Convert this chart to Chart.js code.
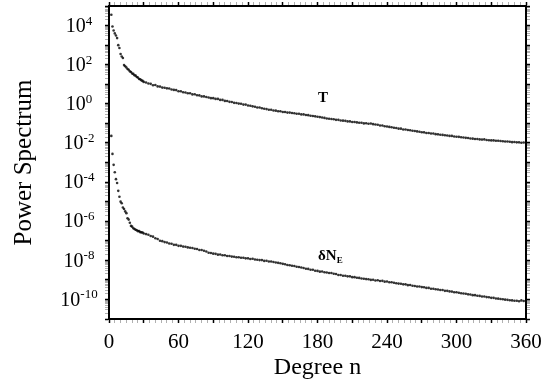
<!DOCTYPE html>
<html>
<head>
<meta charset="utf-8">
<script src="https://cdn.jsdelivr.net/npm/chart.js@4"></script>
<style>
  body { margin: 0; background: #fff; }
  canvas { display: block; }
</style>
</head>
<body>
<canvas id="spectrum" width="549" height="385"></canvas>
<script>
// Degrees n: every degree up to 30, then every second degree up to 360
const degrees = [];
for (let n = 2; n <= 30; n++) degrees.push(n);
for (let n = 32; n <= 360; n += 2) degrees.push(n);

// log10 of the power spectrum of T
const tLog = [
    4.55, 3.95, 3.75, 3.60, 3.49, 3.36, 3.00, 2.85, 2.55, 2.42,
    2.34, 1.98, 1.92, 1.86, 1.78, 1.74, 1.66, 1.63, 1.55, 1.53,
    1.46, 1.44, 1.37, 1.34, 1.27, 1.25, 1.20, 1.17, 1.12,
    1.09, 1.04, 1.02, 0.95, 0.96, 0.89, 0.88, 0.83, 0.82, 0.79,
    0.78, 0.73, 0.71, 0.70, 0.64, 0.64, 0.59, 0.58, 0.54, 0.54,
    0.48, 0.49, 0.44, 0.43, 0.38, 0.38, 0.35, 0.32, 0.29, 0.29,
    0.25, 0.25, 0.20, 0.20, 0.15, 0.14, 0.10, 0.09, 0.05, 0.04,
    0.01, 0.00, -0.04, -0.04, -0.09, -0.10, -0.13, -0.15, -0.19, -0.19,
    -0.23, -0.25, -0.27, -0.30, -0.30, -0.34, -0.35, -0.38, -0.38, -0.42,
    -0.42, -0.45, -0.45, -0.47, -0.48, -0.51, -0.51, -0.54, -0.54, -0.57,
    -0.58, -0.61, -0.62, -0.64, -0.66, -0.68, -0.70, -0.72, -0.75, -0.76,
    -0.78, -0.79, -0.82, -0.82, -0.85, -0.86, -0.87, -0.90, -0.90, -0.93,
    -0.93, -0.95, -0.97, -0.97, -1.00, -0.99, -1.02, -1.01, -1.04, -1.06,
    -1.07, -1.11, -1.11, -1.15, -1.16, -1.18, -1.20, -1.22, -1.24, -1.27,
    -1.27, -1.31, -1.31, -1.34, -1.35, -1.38, -1.39, -1.41, -1.43, -1.45,
    -1.46, -1.49, -1.49, -1.52, -1.52, -1.55, -1.56, -1.58, -1.59, -1.61,
    -1.62, -1.64, -1.64, -1.67, -1.68, -1.69, -1.71, -1.72, -1.74, -1.75,
    -1.77, -1.78, -1.80, -1.80, -1.82, -1.83, -1.82, -1.85, -1.86, -1.87,
    -1.87, -1.89, -1.89, -1.90, -1.91, -1.93, -1.93, -1.94, -1.96, -1.95,
    -1.97, -1.97, -1.99, -1.98, -2.00
];

// log10 of the power spectrum of delta N_E
const neLog = [
    -1.64, -2.56, -3.12, -3.50, -3.85, -4.05, -4.45, -4.75, -5.00, -5.08,
    -5.30, -5.38, -5.50, -5.59, -5.85, -5.92, -6.08, -6.24, -6.28, -6.36,
    -6.40, -6.44, -6.46, -6.51, -6.50, -6.56, -6.57, -6.58, -6.63,
    -6.66, -6.69, -6.76, -6.79, -6.87, -6.91, -7.00, -7.02, -7.07, -7.09,
    -7.14, -7.15, -7.21, -7.21, -7.26, -7.26, -7.30, -7.31, -7.34, -7.36,
    -7.37, -7.41, -7.42, -7.47, -7.47, -7.51, -7.55, -7.61, -7.63, -7.66,
    -7.67, -7.71, -7.70, -7.74, -7.74, -7.78, -7.78, -7.81, -7.82, -7.84,
    -7.84, -7.87, -7.87, -7.90, -7.90, -7.93, -7.92, -7.96, -7.97, -7.99,
    -7.99, -8.03, -8.02, -8.06, -8.06, -8.09, -8.11, -8.13, -8.15, -8.18,
    -8.20, -8.24, -8.25, -8.28, -8.29, -8.33, -8.34, -8.37, -8.39, -8.43,
    -8.44, -8.48, -8.48, -8.53, -8.54, -8.58, -8.57, -8.61, -8.62, -8.65,
    -8.65, -8.69, -8.70, -8.75, -8.75, -8.79, -8.79, -8.82, -8.82, -8.86,
    -8.86, -8.89, -8.90, -8.93, -8.94, -8.96, -8.97, -9.00, -8.99, -9.03,
    -9.02, -9.06, -9.05, -9.09, -9.08, -9.12, -9.12, -9.15, -9.17, -9.19,
    -9.20, -9.23, -9.23, -9.27, -9.26, -9.30, -9.31, -9.34, -9.34, -9.37,
    -9.38, -9.41, -9.41, -9.45, -9.45, -9.48, -9.49, -9.52, -9.52, -9.56,
    -9.56, -9.59, -9.60, -9.63, -9.63, -9.66, -9.68, -9.70, -9.71, -9.74,
    -9.75, -9.78, -9.78, -9.81, -9.82, -9.85, -9.85, -9.88, -9.89, -9.92,
    -9.92, -9.95, -9.96, -9.98, -9.99, -10.01, -10.02, -10.04, -10.05, -10.07,
    -10.07, -10.09, -10.05, -10.08, -10.07
];

// Tick settings
const xTickLabels = [0, 60, 120, 180, 240, 300, 360];
const yLabelExponents = [4, 2, 0, -2, -4, -6, -8, -10];
const yMinExp = -11;
const yMaxExp = 5;

const SERIF = "'Liberation Serif', 'Times New Roman', serif";
Chart.defaults.font.family = SERIF;
Chart.defaults.color = '#000';

// Build scatter points from the arrays
function toPoints(logs) {
    return degrees.map((n, i) => ({ x: n, y: Math.pow(10, logs[i]) }));
}

// Tick marks for x: every 5 degrees, majors every 30
function xTicks(scale) {
    const t = [];
    for (let v = 0; v <= 360; v += 5) t.push({ value: v, major: v % 30 === 0 });
    scale.ticks = t;
}

// Tick marks for y: each decade plus 2..9 minors
function yTicks(scale) {
    const t = [];
    for (let e = yMinExp; e <= yMaxExp; e++) {
        t.push({ value: Math.pow(10, e), major: true });
        if (e < yMaxExp) {
            for (let m = 2; m <= 9; m++) t.push({ value: m * Math.pow(10, e), major: false });
        }
    }
    scale.ticks = t;
}

const tickColor = (c) => (c.tick && c.tick.major ? '#000' : '#b0b0b0');
const tickWidth = (c) => (c.tick && c.tick.major ? 1.5 : 1);

const frameGrid = {
    drawOnChartArea: false,
    drawTicks: true,
    tickLength: 4,
    tickColor: tickColor,
    tickWidth: tickWidth
};
const frameBorder = { display: true, color: '#000', width: 2 };

// Plugin: y tick labels as 10 with superscript exponent, and curve labels
const labelPlugin = {
    id: 'labels',
    afterDraw(chart) {
        const ctx = chart.ctx;
        const ys = chart.scales.y;
        const xs = chart.scales.x;
        ctx.save();
        ctx.fillStyle = '#000';

        yLabelExponents.forEach((e) => {
            const py = ys.getPixelForValue(Math.pow(10, e));
            const expText = String(e);
            ctx.font = `20px ${SERIF}`;
            const wBase = ctx.measureText('10').width;
            ctx.font = `13px ${SERIF}`;
            const wExp = ctx.measureText(expText).width;
            const left = 79 - (wBase + wExp) / 2;

            ctx.textAlign = 'left';
            ctx.textBaseline = 'middle';
            ctx.font = `20px ${SERIF}`;
            ctx.fillText('10', left, py + 1);
            ctx.textBaseline = 'alphabetic';
            ctx.font = `13px ${SERIF}`;
            ctx.fillText(expText, left + wBase, py - 1);
        });

        // Curve labels
        ctx.textBaseline = 'middle';
        ctx.textAlign = 'center';
        ctx.font = `bold 15px ${SERIF}`;
        ctx.fillText('T', xs.getPixelForValue(184.7), ys.getPixelForValue(Math.pow(10, 0.31)));

        const nx = xs.getPixelForValue(180.5);
        const ny = ys.getPixelForValue(Math.pow(10, -7.77));
        ctx.textAlign = 'left';
        ctx.font = `bold 15px ${SERIF}`;
        ctx.fillText('δN', nx, ny);
        const wDN = ctx.measureText('δN').width;
        ctx.font = `bold 9px ${SERIF}`;
        ctx.fillText('E', nx + wDN, ny + 5);

        ctx.restore();
    }
};

const ctx = document.getElementById('spectrum');

new Chart(ctx, {
    type: 'scatter',
    data: {
        datasets: [
            {
                label: 'T',
                data: toPoints(tLog),
                pointRadius: 1.3,
                pointBorderWidth: 0,
                pointBackgroundColor: 'rgba(0,0,0,0.8)'
            },
            {
                label: 'δN_E',
                data: toPoints(neLog),
                pointRadius: 1.3,
                pointBorderWidth: 0,
                pointBackgroundColor: 'rgba(0,0,0,0.8)'
            }
        ]
    },
    options: {
        responsive: false,
        animation: false,
        events: [],
        layout: { padding: 0 },
        plugins: {
            legend: { display: false },
            tooltip: { enabled: false }
        },
        scales: {
            x: {
                type: 'linear',
                position: 'bottom',
                min: 0,
                max: 360,
                afterBuildTicks: xTicks,
                afterFit: (s) => { s.height = 66; },
                grid: frameGrid,
                border: frameBorder,
                ticks: {
                    autoSkip: false,
                    maxRotation: 0,
                    padding: 7,
                    font: { size: 21 },
                    callback: (v) => (xTickLabels.includes(v) ? String(v) : '')
                },
                title: {
                    display: true,
                    text: 'Degree n',
                    font: { size: 24 },
                    padding: { top: 0, bottom: 3 }
                }
            },
            xTop: {
                type: 'linear',
                position: 'top',
                min: 0,
                max: 360,
                afterBuildTicks: xTicks,
                afterFit: (s) => { s.height = 6; },
                grid: frameGrid,
                border: frameBorder,
                ticks: { display: false }
            },
            y: {
                type: 'logarithmic',
                position: 'left',
                min: Math.pow(10, yMinExp),
                max: Math.pow(10, yMaxExp),
                afterBuildTicks: yTicks,
                afterFit: (s) => { s.width = 109; },
                grid: frameGrid,
                border: frameBorder,
                ticks: { display: false },
                title: {
                    display: true,
                    text: 'Power Spectrum',
                    font: { size: 25 },
                    padding: { top: 9, bottom: 0 }
                }
            },
            yRight: {
                type: 'logarithmic',
                position: 'right',
                min: Math.pow(10, yMinExp),
                max: Math.pow(10, yMaxExp),
                afterBuildTicks: yTicks,
                afterFit: (s) => { s.width = 23; },
                grid: frameGrid,
                border: frameBorder,
                ticks: { display: false }
            }
        }
    },
    plugins: [labelPlugin]
});
</script>
</body>
</html>
